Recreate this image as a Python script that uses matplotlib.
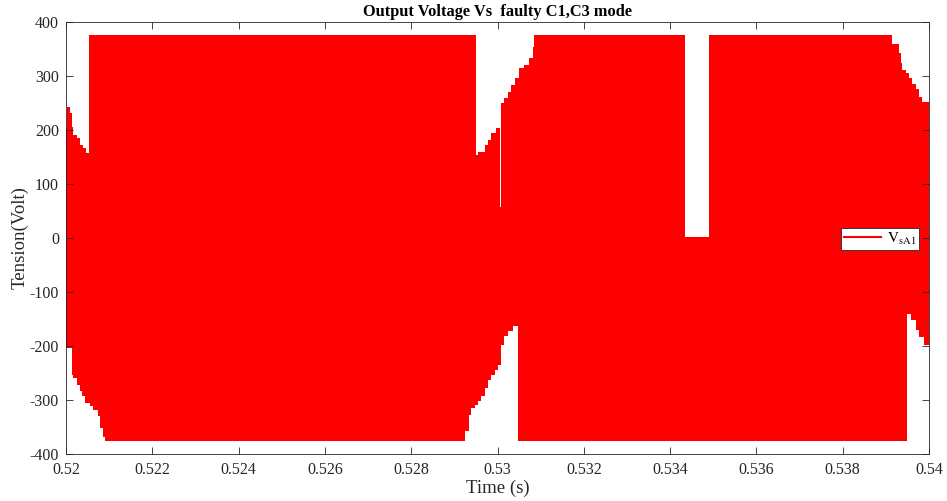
import matplotlib

matplotlib.use("Agg")
import matplotlib.pyplot as plt
from matplotlib.lines import Line2D

# Upper envelope of the switched output voltage (time in s, volts), step-wise
top_t = [0.520000, 0.520030, 0.520093, 0.520131, 0.520170, 0.520247, 0.520324,
         0.520401, 0.520463, 0.520532, 0.529506, 0.529545, 0.529699, 0.529776,
         0.529853, 0.529969, 0.530069, 0.530092, 0.530162, 0.530239, 0.530316,
         0.530394, 0.530509, 0.530625, 0.530741, 0.530818, 0.530856, 0.534345,
         0.534891, 0.539136, 0.539306, 0.539344, 0.539383, 0.539460, 0.539537,
         0.539614, 0.539691, 0.539769, 0.539846, 0.540000]
top_v = [204, 243, 231, 206, 191, 185, 172,
         166, 157, 376, 154, 160, 172, 181,
         194, 204, 57, 250, 259, 271, 283,
         296, 315, 320, 333, 354, 376, 2,
         376, 360, 342, 324, 311, 305, 296,
         285, 275, 262, 252, 252]

# Lower envelope
bot_t = [0.520000, 0.520139, 0.520170, 0.520247, 0.520324, 0.520363, 0.520440,
         0.520556, 0.520633, 0.520748, 0.520787, 0.520849, 0.520903, 0.529236,
         0.529329, 0.529390, 0.529468, 0.529545, 0.529622, 0.529699, 0.529776,
         0.529853, 0.529931, 0.530008, 0.530085, 0.530162, 0.530239, 0.530355,
         0.530471, 0.539498, 0.539576, 0.539691, 0.539769, 0.539884, 0.540000]
bot_v = [-204, -253, -259, -272, -284, -293, -305,
         -312, -318, -330, -352, -369, -376, -358,
         -327, -315, -309, -302, -293, -278, -263,
         -253, -244, -235, -198, -182, -172, -163,
         -376, -140, -152, -170, -183, -198, -198]

x_ticks = [0.52, 0.522, 0.524, 0.526, 0.528, 0.53, 0.532, 0.534, 0.536, 0.538, 0.54]
x_tick_labels = ["0.52", "0.522", "0.524", "0.526", "0.528", "0.53",
                 "0.532", "0.534", "0.536", "0.538", "0.54"]
y_ticks = [-400, -300, -200, -100, 0, 100, 200, 300, 400]

plt.rcParams["font.family"] = ["Liberation Serif", "DejaVu Serif"]
plt.rcParams["mathtext.fontset"] = "stix"
plt.rcParams["axes.unicode_minus"] = False

axis_color = "#262626"

fig = plt.figure(figsize=(9.47, 5.01), dpi=100)
ax = fig.add_axes([0.0697, 0.0938, 0.9113, 0.8623])

# the PWM switching is dense enough to read as a solid band between envelopes
ax.fill_between(top_t, top_v, 0, step="post", color="#ff0000", linewidth=0)
ax.fill_between(bot_t, bot_v, 0, step="post", color="#ff0000", linewidth=0)

ax.set_xlim(0.52, 0.54)
ax.set_ylim(-400, 400)
ax.set_xticks(x_ticks)
ax.set_xticklabels(x_tick_labels)
ax.set_yticks(y_ticks)
ax.set_yticklabels([str(v) for v in y_ticks])

ax.tick_params(direction="in", top=True, right=True, length=5, width=0.6,
               colors=axis_color, labelsize=11.5, pad=5)
ax.tick_params(axis="x", pad=6)
for spine in ax.spines.values():
    spine.set_color(axis_color)
    spine.set_linewidth(0.6)

ax.set_title("Output Voltage Vs  faulty C1,C3 mode", fontsize=11.8,
             fontweight="bold", pad=4)
ax.set_xlabel("Time (s)", fontsize=13.5, color=axis_color, labelpad=1)
ax.set_ylabel("Tension(Volt)", fontsize=13.5, color=axis_color, labelpad=1)

handle = Line2D([], [], color="#ff0000", linewidth=1.5)
leg = ax.legend([handle], [r"$\mathrm{V}_{\mathrm{sA1}}$"], loc="center right",
                bbox_to_anchor=(0.9885, 0.498), fontsize=11, frameon=True,
                fancybox=False, framealpha=1, edgecolor=axis_color,
                handlelength=2.4, borderpad=0.2, handletextpad=0.4,
                borderaxespad=0)
leg.get_frame().set_linewidth(0.6)

fig.savefig("out.png", dpi=100)
